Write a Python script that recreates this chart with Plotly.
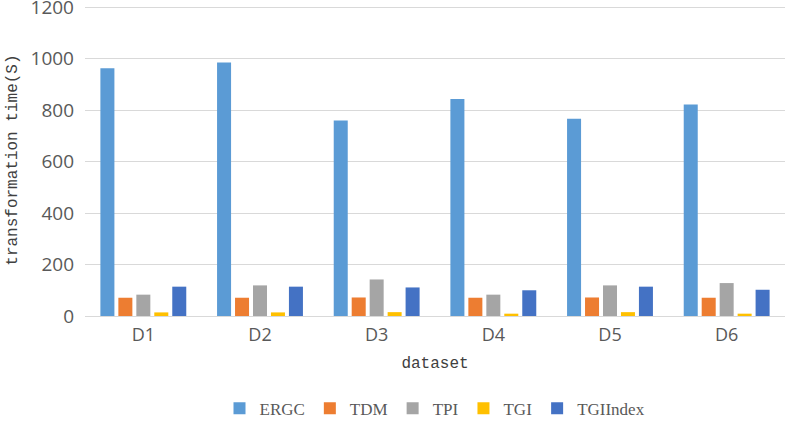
import plotly.graph_objects as go

# dataset categories and transformation times (S)
datasets = ['D1', 'D2', 'D3', 'D4', 'D5', 'D6']
ergc = [963, 985, 760, 844, 767, 822]
tdm = [71, 71, 72, 71, 72, 71]
tpi = [83, 119, 142, 83, 119, 128]
tgi = [14, 14, 15, 9, 15, 9]
tgi_index = [114, 114, 111, 100, 114, 102]

series = [
    ('ERGC', ergc, '#5B9BD5'),
    ('TDM', tdm, '#ED7D31'),
    ('TPI', tpi, '#A5A5A5'),
    ('TGI', tgi, '#FFC000'),
    ('TGIIndex', tgi_index, '#4472C4'),
]

fig = go.Figure()
for name, vals, col in series:
    fig.add_trace(go.Bar(x=datasets, y=vals, name=name, marker_color=col,
                         marker_line_width=0))

mono = 'Liberation Mono'
fig.update_layout(
    width=787, height=422,
    paper_bgcolor='white', plot_bgcolor='white',
    margin=dict(l=85, r=2, t=5, b=106, autoexpand=False),
    barmode='group', bargap=0.23, bargroupgap=0.22,
    legend=dict(orientation='h', x=0.5, xanchor='center', y=-0.24, yanchor='top',
                font=dict(family='Liberation Serif', size=17, color='#595959'),
                itemwidth=30, tracegroupgap=0),
    xaxis=dict(
        title=dict(text='dataset', font=dict(family=mono, size=16, color='#404040'), standoff=12),
        tickfont=dict(family='Open Sans', size=18, color='#595959'),
        showline=True, linecolor='#D9D9D9', linewidth=1, showgrid=False,
        ticklabelstandoff=2, automargin=False,
    ),
    yaxis=dict(
        tickfont=dict(family='Open Sans', size=19, color='#595959'),
        range=[0, 1209], dtick=200, showgrid=True, gridcolor='#D9D9D9', gridwidth=1,
        zeroline=False, ticklabelstandoff=10, ticklabeloverflow='allow', automargin=False,
    ),
)

# y axis title placed as a rotated annotation left of the tick labels
fig.add_annotation(text='transformation time(S)', xref='paper', yref='paper',
                   x=-0.104, y=0.5, xanchor='center', yanchor='middle', textangle=-90,
                   showarrow=False, font=dict(family=mono, size=16, color='#404040'))

# drop the page's default body margin so the figure sits at the window corner
fig.write_html('out.html', config={'displayModeBar': False},
               post_script="document.body.style.margin='0';")
